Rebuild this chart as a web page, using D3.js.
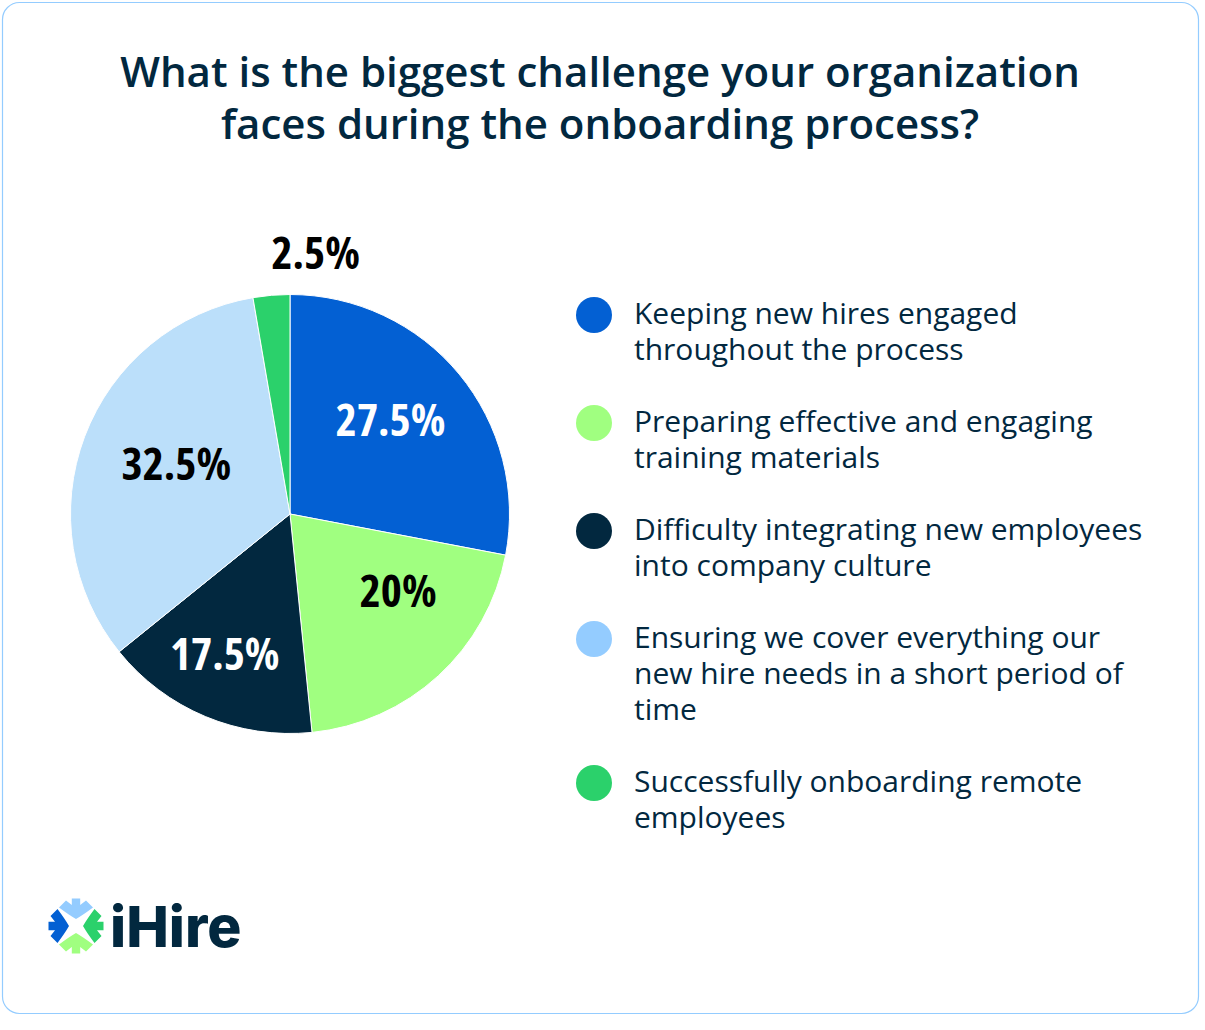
<!DOCTYPE html>
<html>
<head>
<meta charset="utf-8">
<script src="https://cdn.jsdelivr.net/npm/d3@7"></script>
<style>
	html, body { margin: 0; padding: 0; background: #fff; }
	svg { display: block; }
	text { font-family: "Open Sans", sans-serif; }
</style>
</head>
<body>
<div id="viz"></div>
<script>
var titleLines = ['What is the biggest challenge your organization', 'faces during the onboarding process?'];

var categories = [
	['Keeping new hires engaged', 'throughout the process'],
	['Preparing effective and engaging', 'training materials'],
	['Difficulty integrating new employees', 'into company culture'],
	['Ensuring we cover everything our', 'new hire needs in a short period of', 'time'],
	['Successfully onboarding remote', 'employees']
];

// printed labels
var valueLabels = ['27.5%', '20%', '17.5%', '32.5%', '2.5%'];
var sliceSizes = [28, 20.4, 15.8, 33.1, 2.7];

var sliceColors = ['#0360d3', '#a0ff80', '#02283f', '#bbdffa', '#2bd16b'];
var legendColors = ['#0360d3', '#a0ff80', '#02283f', '#94ccff', '#2bd16b'];
var labelColors = ['#fff', '#000', '#fff', '#000', '#000'];

buildViz();

function buildViz(){

	var width = 1205,
		height = 1030,
		radius = 219.5;

	var svg = d3.select('#viz')
		.append('svg')
		.attr('width', width)
		.attr('height', height);

	// card
	svg.append('rect')
		.attr('x', 2.5)
		.attr('y', 2.5)
		.attr('width', 1196)
		.attr('height', 1011)
		.attr('rx', 17)
		.style('fill', '#fff')
		.style('stroke', '#94ccff')
		.style('stroke-width', 1.2);

	// title
	svg.selectAll('.title')
		.data(titleLines)
		.enter().append('text')
			.attr('class', 'title')
			.attr('x', 600)
			.attr('y', function(d,i){ return 87 + i*52; })
			.attr('text-anchor', 'middle')
			.style('font-size', '42px')
			.style('font-weight', 600)
			.style('fill', '#02283f')
			.text(function(d){ return d; });

	// pie
	var pie = d3.pie().sort(null);
	var arc = d3.arc().innerRadius(0).outerRadius(radius);
	var slices = pie(sliceSizes);

	var pieG = svg.append('g')
		.attr('transform', 'translate(290,514)');

	pieG.selectAll('.slice')
		.data(slices)
		.enter().append('path')
			.attr('class', 'slice')
			.attr('d', arc)
			.style('fill', function(d,i){ return sliceColors[i]; })
			.style('stroke', '#fff')
			.style('stroke-width', 1);

	// labels were placed by hand in the original, so nudge each off its centroid
	var labelNudge = [[16,-24], [34,-4], [-23,39], [-11,-11], [35,-152]];
	pieG.selectAll('.slice-label')
		.data(slices)
		.enter().append('text')
			.attr('class', 'slice-label')
			.attr('transform', function(d,i){
				var c = arc.centroid(d);
				return 'translate('+(c[0]+labelNudge[i][0])+','+(c[1]+labelNudge[i][1]+16)+')';
			})
			.attr('text-anchor', 'middle')
			.style('font-size', '45px')
			.style('font-stretch', '75%')
			.style('font-weight', 700)
			.style('fill', function(d,i){ return labelColors[i]; })
			.text(function(d,i){ return valueLabels[i]; });

	// legend
	var lineHeight = 36, gap = 36, y = 314;
	var legend = svg.append('g');
	categories.forEach(function(lines, i){
		legend.append('circle')
			.attr('cx', 594)
			.attr('cy', y + 1)
			.attr('r', 18)
			.style('fill', legendColors[i]);
		lines.forEach(function(line, j){
			legend.append('text')
				.attr('x', 634)
				.attr('y', y + 10 + j*lineHeight)
				.style('font-size', '30px')
				.style('fill', '#02283f')
				.text(line);
		});
		y += lines.length*lineHeight + gap;
	});

	// logo
	var logo = svg.append('g').attr('transform', 'translate(76,926)');
	var logoColors = ['#94ccff', '#2bd16b', '#a0ff80', '#0360d3'];
	logo.selectAll('path')
		.data(logoColors)
		.enter().append('path')
			.attr('d', 'M-4.2,-27.5 H4.2 V-21 L10,-25.5 L17,-18.5 Q7,-11 0,-7 Q-7,-11 -17,-18.5 L-10,-25.5 L-4.2,-21 Z')
			.attr('transform', function(d,i){ return 'rotate('+(i*90)+')'; })
			.style('fill', function(d){ return d; });

	svg.append('text')
		.attr('x', 110)
		.attr('y', 947)
		.style('font-family', 'Inter, sans-serif')
		.style('font-size', '57px')
		.style('font-weight', 800)
		.style('fill', '#02283f')
		.text('iHire');
}
</script>
</body>
</html>
